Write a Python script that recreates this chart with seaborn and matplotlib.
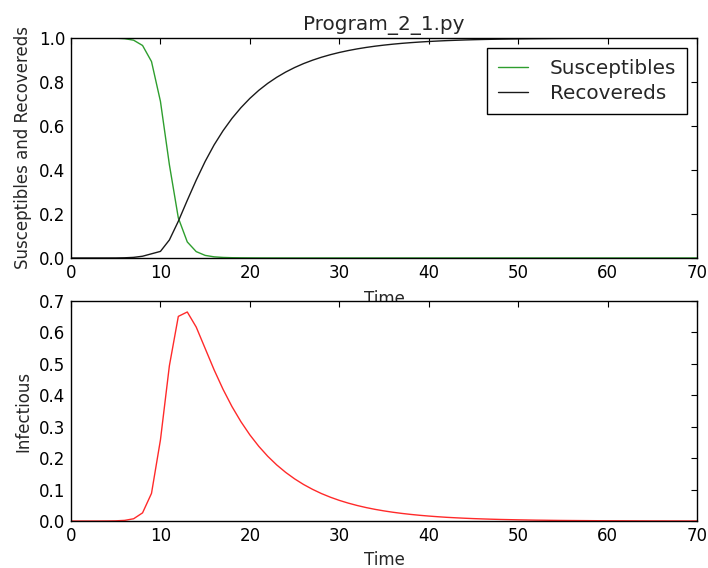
import matplotlib
matplotlib.use("Agg")
import matplotlib.pyplot as plt
import seaborn as sns
import pandas as pd

# ---- data ----
time = list(range(71))

susceptibles = [1.0, 1.0, 1.0, 0.99995, 0.9998, 0.9993, 0.997, 0.990, 0.966, 0.893,
                0.712, 0.424, 0.182, 0.073, 0.029, 0.0118, 0.0052, 0.0025, 0.0013, 0.0008,
                0.0005, 0.0003, 0.0002, 0.00015, 0.0001] + [0.00005] * 46

infectious = [0.000001, 0.0000036, 0.000013, 0.000046, 0.00017, 0.0006, 0.0021, 0.0072, 0.026, 0.088,
              0.258, 0.494, 0.651, 0.665, 0.617, 0.549, 0.481, 0.419, 0.364, 0.316,
              0.274, 0.2375, 0.2059, 0.1785, 0.1548, 0.1342, 0.1163, 0.1009, 0.0874, 0.0758,
              0.0657, 0.0570, 0.0494, 0.0428, 0.0371, 0.0322, 0.0279, 0.0242, 0.0210, 0.0182,
              0.0158, 0.0137, 0.0118, 0.0103, 0.0089, 0.0077, 0.0067, 0.0058, 0.0050, 0.0044,
              0.0038, 0.0033, 0.0028, 0.0025, 0.0021, 0.0018, 0.0016, 0.0014, 0.0012, 0.0010,
              0.0009, 0.0008, 0.0007, 0.0006, 0.0005, 0.0004, 0.0004, 0.0003, 0.0003, 0.0002,
              0.0002]

recovereds = [0.0, 0.0000003, 0.000001, 0.000005, 0.00002, 0.0001, 0.0009, 0.0028, 0.008, 0.019,
              0.030, 0.082, 0.167, 0.262, 0.354, 0.439, 0.514, 0.5785, 0.6347, 0.6832,
              0.7255, 0.7622, 0.7939, 0.8213, 0.8451, 0.8657, 0.8836, 0.8990, 0.9125, 0.9241,
              0.9342, 0.9429, 0.9505, 0.9571, 0.9628, 0.9677, 0.9720, 0.9757, 0.9789, 0.9817,
              0.9841, 0.9862, 0.9881, 0.9896, 0.9910, 0.9922, 0.9932, 0.9941, 0.9949, 0.9955,
              0.9961, 0.9966, 0.9971, 0.9974, 0.9978, 0.9981, 0.9983, 0.9985, 0.9987, 0.9989,
              0.9990, 0.9991, 0.9992, 0.9993, 0.9994, 0.9995, 0.9995, 0.9996, 0.9996, 0.9997,
              0.9997]

title = "Program_2_1.py"
x_label = "Time"
y_label_top = "Susceptibles and Recovereds"
y_label_bottom = "Infectious"

df = pd.DataFrame({"Time": time, "S": susceptibles, "I": infectious, "R": recovereds})

sns.set_style("white")
plt.rcParams["font.family"] = ["DejaVu Sans"]

GREEN = "#2e9e2e"
BLACK = "#1a1a1a"
RED = "#ff2a2a"
FS = 12

fig = plt.figure(figsize=(7.08, 5.68), dpi=100)
ax1 = fig.add_axes([0.1003, 0.5458, 0.8842, 0.3873])
ax2 = fig.add_axes([0.1003, 0.0827, 0.8842, 0.3874])

sns.lineplot(data=df, x="Time", y="S", ax=ax1, color=GREEN, linewidth=1.0, label="Susceptibles")
sns.lineplot(data=df, x="Time", y="R", ax=ax1, color=BLACK, linewidth=1.0, label="Recovereds")
sns.lineplot(data=df, x="Time", y="I", ax=ax2, color=RED, linewidth=1.0)

ax1.set_xlim(0, 70)
ax1.set_ylim(0, 1.0)
ax2.set_xlim(0, 70)
ax2.set_ylim(0, 0.7)
ax1.set_yticks([0.0, 0.2, 0.4, 0.6, 0.8, 1.0])
ax2.set_yticks([0.0, 0.1, 0.2, 0.3, 0.4, 0.5, 0.6, 0.7])
for ax in (ax1, ax2):
    ax.set_xticks(range(0, 71, 10))
    ax.tick_params(direction="in", top=True, right=True, length=4.5, width=0.8,
                   labelsize=FS, colors="black", pad=4)
    for sp in ax.spines.values():
        sp.set_visible(True)
        sp.set_color("black")
        sp.set_linewidth(1.0)

ax1.set_xlabel(x_label, fontsize=FS, labelpad=6)
ax2.set_xlabel(x_label, fontsize=FS, labelpad=4.5)

ax1.yaxis.set_major_formatter(plt.FormatStrFormatter("%.1f"))
ax2.yaxis.set_major_formatter(plt.FormatStrFormatter("%.1f"))

ax1.set_ylabel(y_label_top, fontsize=FS, labelpad=5)
ax2.set_ylabel(y_label_bottom, fontsize=FS, labelpad=5)
ax1.set_title(title, fontsize=14.4, pad=6)

leg = ax1.legend(loc="upper right", fontsize=14.4, frameon=True, fancybox=False,
                 edgecolor="black", framealpha=1.0, handlelength=1.5, borderpad=0.55,
                 handletextpad=1.1, labelspacing=0.3, borderaxespad=0.5)
leg.get_frame().set_linewidth(1.0)

fig.savefig("out.png", dpi=100)
